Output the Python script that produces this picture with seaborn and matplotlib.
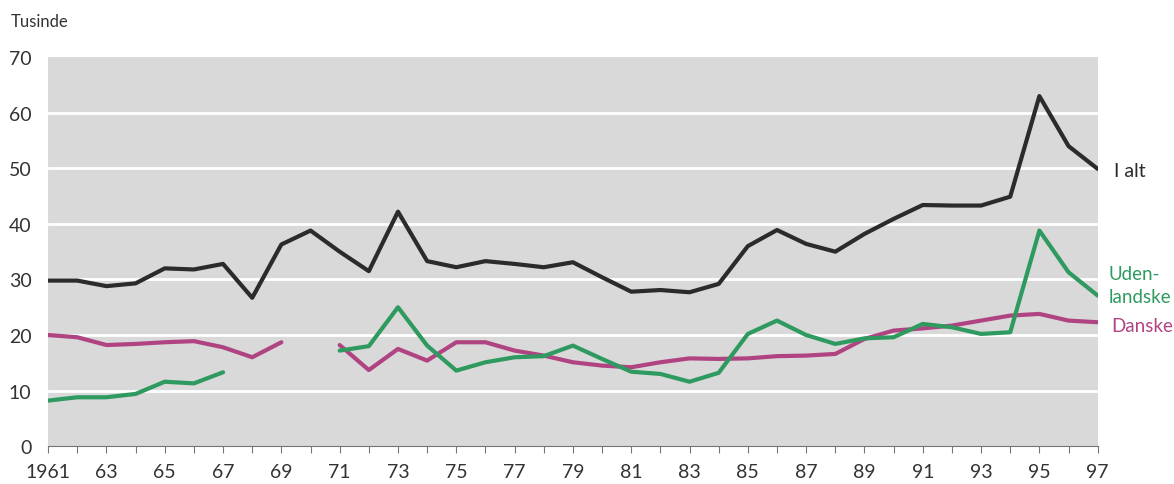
import numpy as np
import pandas as pd
import seaborn as sns
import matplotlib.pyplot as plt

# data, thousands
years = list(range(1961, 1998))
i_alt = [29.8, 29.8, 28.8, 29.3, 32.0, 31.8, 32.8, 26.7, 36.3, 38.8,
         35.0, 31.5, 42.2, 33.3, 32.2, 33.3, 32.8, 32.2, 33.1, 30.4,
         27.8, 28.1, 27.7, 29.2, 36.0, 38.9, 36.4, 35.0, 38.2, 40.9,
         43.4, 43.3, 43.3, 44.9, 63.0, 54.0, 49.9]
danske = [20.0, 19.6, 18.2, 18.4, 18.7, 18.9, 17.8, 16.0, 18.7, np.nan,
          18.2, 13.7, 17.5, 15.4, 18.7, 18.7, 17.2, 16.3, 15.1, 14.5,
          14.2, 15.1, 15.8, 15.7, 15.8, 16.2, 16.3, 16.6, 19.3, 20.8,
          21.2, 21.7, 22.6, 23.5, 23.8, 22.6, 22.3]
udenlandske = [8.2, 8.8, 8.8, 9.4, 11.6, 11.3, 13.3, np.nan, np.nan, np.nan,
               17.2, 18.0, 25.0, 18.1, 13.6, 15.1, 16.0, 16.2, 18.1, 15.7,
               13.4, 13.0, 11.6, 13.2, 20.2, 22.6, 20.0, 18.4, 19.4, 19.6,
               22.0, 21.4, 20.2, 20.5, 38.8, 31.3, 27.1]

series = {'I alt': i_alt, 'Danske': danske, 'Udenlandske': udenlandske}
colors = {'I alt': '#2b2b2b', 'Danske': '#b04482', 'Udenlandske': '#2f9a5f'}

rows = []
for name, vals in series.items():
    seg = 0
    for y, v in zip(years, vals):
        if np.isnan(v):
            seg += 1
            continue
        rows.append({'år': y, 'værdi': v, 'serie': name, 'seg': seg})
df = pd.DataFrame(rows)

sns.set_style('white')
plt.rcParams['font.family'] = ['Lato', 'DejaVu Sans']

fig = plt.figure(figsize=(11.74, 4.85), dpi=100)
ax = fig.add_axes([0.041, 0.078, 0.894, 0.802])
ax.set_facecolor('#d9d9d9')

for v in range(10, 70, 10):
    ax.axhline(v, color='white', lw=2, zorder=1)

for name in ['Danske', 'Udenlandske', 'I alt']:
    sub = df[df['serie'] == name]
    sns.lineplot(data=sub, x='år', y='værdi', units='seg', estimator=None,
                 color=colors[name], lw=3.0, ax=ax, zorder=3)

ax.set_xlim(1961, 1997)
ax.set_ylim(0, 70)
ax.set_xlabel('')
ax.set_ylabel('')

ax.set_xticks(years)
ax.set_xticklabels(['1961' if y == 1961 else ('%02d' % (y % 100) if (y - 1961) % 2 == 0 else '')
                    for y in years], fontsize=14, color='#333333')
ax.set_yticks(range(0, 80, 10))
ax.set_yticklabels([str(v) for v in range(0, 80, 10)], fontsize=14, color='#333333')
ax.tick_params(axis='x', length=5, color='#777777', width=0.8, pad=7, direction='out', bottom=True)
ax.tick_params(axis='y', length=0, pad=12)

for s in ['top', 'right', 'left']:
    ax.spines[s].set_visible(False)
ax.spines['bottom'].set_color('#777777')
ax.spines['bottom'].set_linewidth(0.8)

fig.text(0.009, 0.955, 'Tusinde', fontsize=12, color='#333333', va='center')

ax.text(1.016, 0.708, 'I alt', transform=ax.transAxes, fontsize=14, color='#2b2b2b', va='center')
ax.text(1.010, 0.415, 'Uden-\nlandske', transform=ax.transAxes, fontsize=13.5,
        color='#2f9a5f', va='center', linespacing=1.4)
ax.text(1.013, 0.31, 'Danske', transform=ax.transAxes, fontsize=13.5, color='#b04482', va='center')

fig.savefig('out.png', dpi=100)
